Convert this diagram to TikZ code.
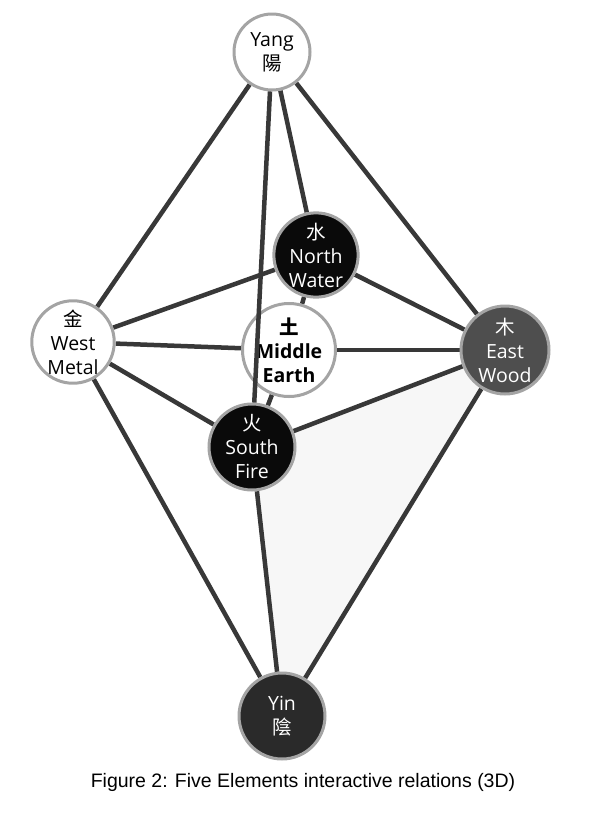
\documentclass[tikz,border=0pt]{standalone}
\usepackage{fontspec}
\setmainfont{Open Sans}
\newfontfamily\cjk{Noto Sans CJK TC}
\newfontfamily\capfont{Liberation Sans}
\usetikzlibrary{backgrounds}
\definecolor{Ring}{HTML}{A4A4A4}
\definecolor{Edge}{HTML}{383838}
\definecolor{Ink}{HTML}{0A0A0A}
\definecolor{WoodGray}{HTML}{4E4E4E}
\definecolor{Dusk}{HTML}{2A2A2A}
\definecolor{Haze}{HTML}{F7F7F7}
\tikzset{
  elem/.style={circle,draw=Ring,line width=3pt,align=center,inner sep=0pt,font=\fontsize{19.5}{24}\selectfont},
  lightel/.style={elem,fill=white,text=black},
  darkel/.style={elem,fill=Ink,text=white},
  link/.style={draw=Edge,line width=4.5pt}
}

\begin{document}
\begin{tikzpicture}[x=1pt,y=-1pt]
  \useasboundingbox (0,0) rectangle (594,820);
  \node[lightel,minimum size=76pt] (yang) at (272,52) {Yang\\{\cjk 陽}};
  \node[darkel,minimum size=78pt] (water) at (316,255) {{\cjk 水}\\North\\Water};
  \node[lightel,minimum size=80pt] (metal) at (73,342) {{\cjk 金}\\West\\Metal};
  \node[lightel,minimum size=86pt] (earth) at (289,350) {{\cjk\bfseries 土}\\\textbf{Middle}\\\textbf{Earth}};
  \node[elem,fill=WoodGray,text=white,minimum size=88pt] (wood) at (505,350) {{\cjk 木}\\East\\Wood};
  \node[darkel,minimum size=86pt] (fire) at (252,447) {{\cjk 火}\\South\\Fire};
  \node[elem,fill=Dusk,text=white,minimum size=86pt] (yin) at (282,716) {Yin\\{\cjk 陰}};
  \node[font=\capfont\fontsize{19.5}{22}\selectfont] (cap) at (303,782) {Figure 2: Five Elements interactive relations (3D)};

  \begin{scope}[on background layer]
    \fill[Haze] (fire.center) -- (wood.center) -- (yin.center) -- cycle;
    \draw[link] (yang) -- (metal);
    \draw[link] (yang) -- (water);
    \draw[link] (yang) -- (wood);
    \draw[link] (water) -- (metal);
    \draw[link] (water) -- (wood);
    \draw[link] (water) -- (earth);
    \draw[link] (metal) -- (earth);
    \draw[link] (earth) -- (wood);
    \draw[link] (earth) -- (fire);
    \draw[link] (metal) -- (fire);
    \draw[link] (fire) -- (wood);
    \draw[link] (metal) -- (yin);
    \draw[link] (fire) -- (yin);
    \draw[link] (wood) -- (yin);
  \end{scope}
  % passes in front of the middle node
  \draw[link] (yang) -- (fire);
\end{tikzpicture}
\end{document}
